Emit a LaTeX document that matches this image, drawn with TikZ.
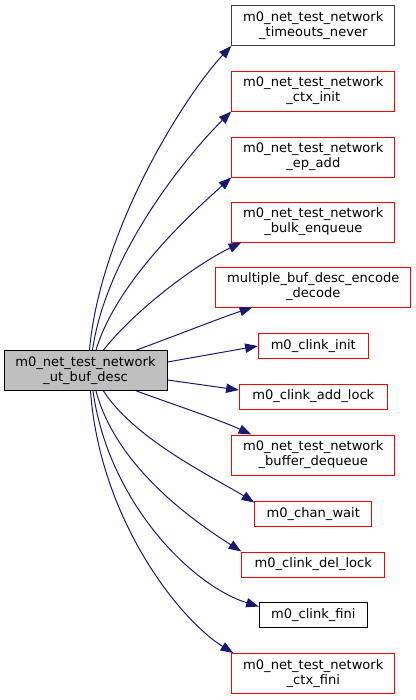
\documentclass[tikz,border=0pt]{standalone}
\usepackage{fontspec}
\setmainfont{DejaVu Sans}
\usetikzlibrary{arrows.meta,calc}
\definecolor{edgeblue}{HTML}{191970}
\definecolor{rootgray}{HTML}{BFBFBF}
\tikzset{
  fn/.style={draw=red, fill=white, align=center, inner sep=0pt, line width=0.75pt,
    font=\fontsize{9.8}{11.25}\selectfont},
  fnblack/.style={fn, draw=black},
  twoline/.style={minimum width=122.25pt, minimum height=30pt},
  oneline/.style={minimum height=18.75pt},
  call/.style={edgeblue, line width=0.75pt, -{Triangle[length=9.5pt,width=7pt]}},
}
\begin{document}
\begin{tikzpicture}[x=0.75pt,y=-0.75pt]
\useasboundingbox (0,0) rectangle (416,700);
\node[fnblack, twoline, fill=rootgray] (root) at (85.5,370.5) {m0\_net\_test\_network\\\_ut\_buf\_desc};
\node[fnblack, twoline, draw=black!75] (timeouts) at (313.3,25.5) {m0\_net\_test\_network\\\_timeouts\_never};
\node[fn, twoline] (ctxinit) at (313.3,91) {m0\_net\_test\_network\\\_ctx\_init};
\node[fn, twoline] (epadd) at (313.3,157) {m0\_net\_test\_network\\\_ep\_add};
\node[fn, twoline] (bulk) at (313.3,222) {m0\_net\_test\_network\\\_bulk\_enqueue};
\node[fn, twoline, minimum width=146.25pt] (multbuf) at (313.3,287) {multiple\_buf\_desc\_encode\\\_decode};
\node[fn, oneline, minimum width=82.5pt] (clinkinit) at (313.3,346) {m0\_clink\_init};
\node[fn, oneline, minimum width=111pt] (addlock) at (313.3,396.5) {m0\_clink\_add\_lock};
\node[fn, twoline] (bufdeq) at (313.3,455) {m0\_net\_test\_network\\\_buffer\_dequeue};
\node[fn, oneline, minimum width=87.75pt] (chanwait) at (313.3,514) {m0\_chan\_wait};
\node[fn, oneline, minimum width=107.25pt] (dellock) at (313.3,564.5) {m0\_clink\_del\_lock};
\node[fnblack, oneline, minimum width=81pt] (clinkfini) at (313.3,615) {m0\_clink\_fini};
\node[fn, twoline] (ctxfini) at (313.3,673.5) {m0\_net\_test\_network\\\_ctx\_fini};
% calls going up
\draw[call] ($(root.north)+(4,0)$) .. controls (100,230) and (185,95) .. (timeouts.south west);
\draw[call] ($(root.north)+(7,0)$) .. controls (107,250) and (192,150) .. (ctxinit.south west);
\draw[call] ($(root.north)+(10.5,0)$) .. controls (117,280) and (195,210) .. (epadd.south west);
\draw[call] ($(root.north)+(18,0)$) .. controls (135,310) and (195,265) .. ($(bulk.south west)+(10,0)$);
\draw[call] ($(root.north)+(51,0)$) .. controls (175,336) and (220,318) .. ($(multbuf.south west)+(37,0)$);
% straight ones
\draw[call] ($(root.east)+(0,-8.5)$) -- (clinkinit.west);
\draw[call] ($(root.east)+(0,9.5)$) -- ($(addlock.west)+(0,-6.5)$);
% calls going down
\draw[call] ($(root.south)+(51,0)$) .. controls (175,405) and (220,420) .. ($(bufdeq.north west)+(20,0)$);
\draw[call] ($(root.south)+(18,0)$) .. controls (135,440) and (215,478) .. ($(chanwait.north west)+(0,1.5)$);
\draw[call] ($(root.south)+(10.5,0)$) .. controls (117,470) and (200,525) .. (dellock.north west);
\draw[call] ($(root.south)+(7.5,0)$) .. controls (108,500) and (190,585) .. ($(clinkfini.north west)+(0,4.5)$);
\draw[call] ($(root.south)+(5,0)$) .. controls (100,520) and (180,620) .. ($(ctxfini.north west)+(2,0)$);
\end{tikzpicture}
\end{document}
